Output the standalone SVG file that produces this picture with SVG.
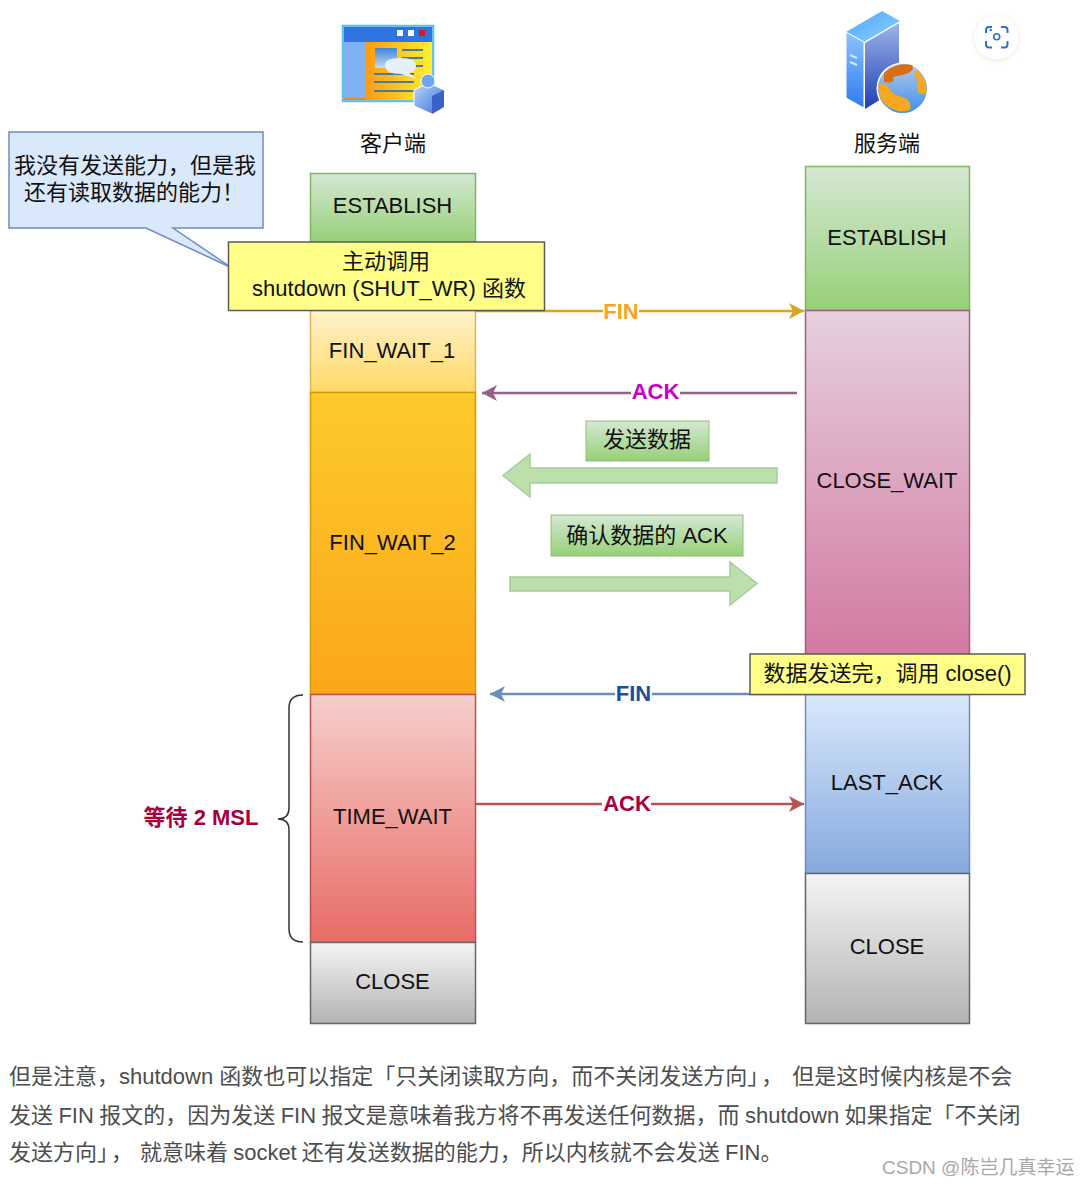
<svg xmlns="http://www.w3.org/2000/svg" width="1088" height="1187" viewBox="0 0 1088 1187">
<defs>
<linearGradient id="gGreen" x1="0" y1="0" x2="0" y2="1"><stop offset="0" stop-color="#d5e8d4"/><stop offset="1" stop-color="#97d077"/></linearGradient>
<linearGradient id="gYellow" x1="0" y1="0" x2="0" y2="1"><stop offset="0" stop-color="#fff2cc"/><stop offset="1" stop-color="#ffd966"/></linearGradient>
<linearGradient id="gOrange" x1="0" y1="0" x2="0" y2="1"><stop offset="0" stop-color="#fdcb2c"/><stop offset="1" stop-color="#fba61a"/></linearGradient>
<linearGradient id="gRed" x1="0" y1="0" x2="0" y2="1"><stop offset="0" stop-color="#f6cfcc"/><stop offset="1" stop-color="#e86b66"/></linearGradient>
<linearGradient id="gGrey" x1="0" y1="0" x2="0" y2="1"><stop offset="0" stop-color="#f5f5f5"/><stop offset="1" stop-color="#b3b3b3"/></linearGradient>
<linearGradient id="gPink" x1="0" y1="0" x2="0" y2="1"><stop offset="0" stop-color="#e6d0de"/><stop offset="1" stop-color="#d0709b"/></linearGradient>
<linearGradient id="gBlue" x1="0" y1="0" x2="0" y2="1"><stop offset="0" stop-color="#dae8fc"/><stop offset="1" stop-color="#85a9de"/></linearGradient>
<linearGradient id="gTag" x1="0" y1="0" x2="0" y2="1"><stop offset="0" stop-color="#d5e8d4"/><stop offset="1" stop-color="#97d077"/></linearGradient>
<linearGradient id="gWin" x1="0" y1="0" x2="1" y2="0"><stop offset="0" stop-color="#ff9a10"/><stop offset="1" stop-color="#fff030"/></linearGradient>
<linearGradient id="gPic" x1="0" y1="0" x2="0" y2="1"><stop offset="0" stop-color="#3f86d8"/><stop offset="1" stop-color="#c8dcf0"/></linearGradient>
<linearGradient id="gSrvL" x1="0" y1="0" x2="0" y2="1"><stop offset="0" stop-color="#8cc4ff"/><stop offset="1" stop-color="#2f7bf0"/></linearGradient>
<linearGradient id="gSrvR" x1="0" y1="0" x2="0" y2="1"><stop offset="0" stop-color="#9db4ea"/><stop offset="1" stop-color="#1f3fb4"/></linearGradient>
<linearGradient id="gSrvT" x1="0" y1="0" x2="1" y2="1"><stop offset="0" stop-color="#4da6fb"/><stop offset="1" stop-color="#8fd0ff"/></linearGradient>
<linearGradient id="gGlobe" x1="0" y1="0" x2="0" y2="1"><stop offset="0" stop-color="#b4c8e4"/><stop offset="1" stop-color="#3d90ee"/></linearGradient>
<linearGradient id="gPerson" x1="0" y1="0" x2="1" y2="1"><stop offset="0" stop-color="#b5d8ff"/><stop offset="1" stop-color="#3f6fd8"/></linearGradient>
<marker id="aGold" markerWidth="16" markerHeight="16" refX="15" refY="8" orient="auto" markerUnits="userSpaceOnUse"><path d="M0 0 L15 8 L0 16 L4 8Z" fill="#d9a520"/></marker>
<marker id="aPurple" markerWidth="16" markerHeight="16" refX="15" refY="8" orient="auto" markerUnits="userSpaceOnUse"><path d="M0 0 L15 8 L0 16 L4 8Z" fill="#996185"/></marker>
<marker id="aBlue" markerWidth="16" markerHeight="16" refX="15" refY="8" orient="auto" markerUnits="userSpaceOnUse"><path d="M0 0 L15 8 L0 16 L4 8Z" fill="#6c8ebf"/></marker>
<marker id="aRed" markerWidth="16" markerHeight="16" refX="15" refY="8" orient="auto" markerUnits="userSpaceOnUse"><path d="M0 0 L15 8 L0 16 L4 8Z" fill="#b85450"/></marker>
<filter id="soft" x="-40%" y="-40%" width="180%" height="180%"><feGaussianBlur stdDeviation="3"/></filter>
</defs>
<style>
text{font-family:"Liberation Sans","Noto Sans CJK SC",sans-serif;fill:#111}
.st{font-size:22px;text-anchor:middle}
.cj{font-size:22px;text-anchor:middle}
.lb{font-size:22px;font-weight:700;text-anchor:middle}
.body{font-size:22px;fill:#4d4d4d}
.s{stroke-width:1.5}
.conn{fill:none;stroke-width:2.5}
.tag{fill:url(#gTag);stroke:#8fbf78;stroke-width:1}
.note{fill:#ffff88;stroke:#5c5c50;stroke-width:1.5}
.big{fill:#bcdfac;stroke:#a3d097;stroke-width:1.5}
</style>
<rect width="1088" height="1187" fill="#fff"/>

<g id="icon-client">
<rect x="342.500" y="25.500" width="91" height="76" fill="#6cc4ee" stroke="#58c0f0" stroke-width="1.500"/>
<rect x="344" y="27" width="88" height="15" fill="#2f74e0"/>
<rect x="344" y="42" width="22" height="56" fill="#7fb2f4"/>
<rect x="366" y="42" width="66" height="58" fill="url(#gWin)"/>
<rect x="344" y="98" width="22" height="2" fill="#f08a20"/>
<rect x="397" y="30" width="6" height="6" fill="#fff"/><rect x="408" y="30" width="6" height="6" fill="#fff"/><rect x="419" y="30" width="6" height="6" fill="#e01818"/>
<rect x="375" y="48" width="22" height="20" fill="url(#gPic)"/>
<path d="M402 50h21M402 58h21M402 66h21M374 74h40M374 82h40M374 91h40" stroke="#4a7a9c" stroke-width="2" fill="none"/>
<path d="M385 65 Q385 58 401 58 Q416 58 416 66 Q416 72 409 73 L417 79 L401 74 Q385 74 385 65Z" fill="#e6f0fa"/>
<path d="M414 90 L429 83 L444 90 L444 107 L432 114 L414 106Z" fill="url(#gPerson)" stroke="#fff" stroke-width="1"/>
<path d="M432 114 L444 107 L444 90 L432 96Z" fill="#3b60c8"/>
<circle cx="428" cy="81" r="7" fill="#6fa8f0" stroke="#fff" stroke-width="1"/>
</g>

<g id="icon-server">
<path d="M846 32 L882 11 L900 21 L864 42Z" fill="url(#gSrvT)"/>
<path d="M846 32 L864 42 L864 108 L846 98Z" fill="url(#gSrvL)" stroke="#fff" stroke-width="1"/>
<path d="M865 43 L899 23 L899 88 L865 109Z" fill="url(#gSrvR)"/>
<path d="M850 55l7 3M850 62l7 3" stroke="#d5e5fa" stroke-width="2"/>
<circle cx="902.500" cy="88.500" r="26" fill="#fff"/>
<circle cx="902.500" cy="88.500" r="24.500" fill="url(#gGlobe)"/>
<path d="M884 73 Q896 62 912 65 Q916 70 906 74 Q898 76 893 77 Q896 84 884 82Z" fill="#d96e10"/>
<path d="M878 86 Q884 80 889 88 Q892 95 903 97 Q913 101 910 110 Q902 113 895 110 Q884 106 880 97Z" fill="#f5a820"/>
<path d="M917 70 Q926 78 927 92 Q920 97 917 90 Q920 80 914 74Z" fill="#f5a820"/>
</g>

<g id="icon-scan">
<circle cx="996.500" cy="38.500" r="21" fill="#000" fill-opacity=".12" filter="url(#soft)"/>
<circle cx="996.500" cy="37.500" r="22" fill="#fff"/>
<path d="M986 33 v-3 q0 -3 3 -3 h3 M1001 27 h3.500 q3 0 3 3 v3 M1007.500 41 v3.500 q0 3 -3 3 h-3.500 M992 47.500 h-3 q-3 0 -3 -3 v-3.500" fill="none" stroke="#2f6fd0" stroke-width="2"/>
<circle cx="996.700" cy="36.700" r="3" fill="none" stroke="#2f6fd0" stroke-width="1.600"/>
<circle cx="990.700" cy="30" r="1.200" fill="#2f6fd0"/>
</g>

<g id="label-client"><text class="cj" x="393" y="151">客户端</text></g>
<g id="label-server"><text class="cj" x="887" y="151">服务端</text></g>

<g id="client-establish"><rect class="s" x="310.500" y="173.500" width="165" height="69" fill="url(#gGreen)" stroke="#82b366"/><text class="st" x="392.500" y="213">ESTABLISH</text></g>
<g id="client-fin-wait-1"><rect class="s" x="310.500" y="310.500" width="165" height="82" fill="url(#gYellow)" stroke="#d6b656"/><text class="st" x="392" y="358">FIN_WAIT_1</text></g>
<g id="client-fin-wait-2"><rect class="s" x="310.500" y="392.500" width="165" height="302" fill="url(#gOrange)" stroke="#d79b00"/><text class="st" x="392.500" y="550">FIN_WAIT_2</text></g>
<g id="client-time-wait"><rect class="s" x="310.500" y="694.500" width="165" height="248" fill="url(#gRed)" stroke="#b85450"/><text class="st" x="392.500" y="824">TIME_WAIT</text></g>
<g id="client-close"><rect class="s" x="310.500" y="942.500" width="165" height="81" fill="url(#gGrey)" stroke="#666"/><text class="st" x="392.500" y="989">CLOSE</text></g>

<g id="server-establish"><rect class="s" x="805.500" y="166.500" width="164" height="144" fill="url(#gGreen)" stroke="#82b366"/><text class="st" x="887" y="245">ESTABLISH</text></g>
<g id="server-close-wait"><rect class="s" x="805.500" y="310.500" width="164" height="383" fill="url(#gPink)" stroke="#996185"/><text class="st" x="887" y="488">CLOSE_WAIT</text></g>
<g id="server-last-ack"><rect class="s" x="805.500" y="694.500" width="164" height="179" fill="url(#gBlue)" stroke="#6c8ebf"/><text class="st" x="887" y="790">LAST_ACK</text></g>
<g id="server-close"><rect class="s" x="805.500" y="873.500" width="164" height="150" fill="url(#gGrey)" stroke="#666"/><text class="st" x="887" y="954">CLOSE</text></g>

<g id="connectors">
<path class="conn" d="M476 311H804" stroke="#d9a520" marker-end="url(#aGold)"/>
<rect x="603" y="300" width="36" height="24" fill="#fff"/>
<text class="lb" x="621" y="319" style="fill:#f5a623">FIN</text>
<path class="conn" d="M797 393H482" stroke="#996185" marker-end="url(#aPurple)"/>
<rect x="631" y="381" width="49" height="24" fill="#fff"/>
<text class="lb" x="655.500" y="399" style="fill:#c800c8">ACK</text>
<path class="conn" d="M805 694H490" stroke="#6c8ebf" marker-end="url(#aBlue)"/>
<rect x="615" y="682" width="37" height="24" fill="#fff"/>
<text class="lb" x="633.500" y="701" style="fill:#1c4f9c">FIN</text>
<path class="conn" d="M476 804H804" stroke="#b85450" marker-end="url(#aRed)"/>
<rect x="602" y="792" width="49" height="24" fill="#fff"/>
<text class="lb" x="627" y="811" style="fill:#a50040">ACK</text>
<path class="big" d="M777 468V483H530V497L503 475.500L530 454V468Z"/>
<path class="big" d="M510 577V591H730V605L757 583.500L730 562V577Z"/>
<path d="M278 819 Q289 819 289 808 V708 Q289 695 303 695 M278 819 Q289 819 289 830 V929 Q289 942 303 942" fill="none" stroke="#333" stroke-width="1.500"/>
</g>

<g id="callout"><path d="M9 132H263V228H173L232 268L146 228H9Z" fill="#dae8fc" stroke="#6c8ebf" stroke-width="1.500"/><text class="cj" x="135" y="173">我没有发送能力，但是我</text><text class="cj" x="134" y="200">还有读取数据的能力！</text></g>
<g id="note-shutdown"><rect class="note" x="228.500" y="242" width="316" height="68.500"/><text class="cj" x="386" y="269">主动调用</text><text class="cj" x="389" y="296">shutdown (SHUT_WR) 函数</text></g>
<g id="tag-send"><rect class="tag" x="586" y="421" width="123" height="40"/><text class="cj" x="647" y="447">发送数据</text></g>
<g id="tag-ack"><rect class="tag" x="551" y="515" width="192" height="41"/><text class="cj" x="647" y="543">确认数据的 ACK</text></g>
<g id="note-close"><rect class="note" x="750" y="654" width="275" height="40.500"/><text class="cj" x="887.500" y="681">数据发送完，调用 close()</text></g>
<g id="label-msl"><text class="lb" x="201" y="825" style="fill:#a50040">等待 2 MSL</text></g>

<g id="caption">
<text class="body" x="9" y="1084">但是注意，shutdown 函数也可以指定「只关闭读取方向，而不关闭发送方向」<tspan dx="3">，</tspan><tspan dx="9">但是这时候内核是不会</tspan></text>
<text class="body" x="9" y="1123" style="word-spacing:-0.7px">发送 FIN 报文的，因为发送 FIN 报文是意味着我方将不再发送任何数据，而 shutdown 如果指定「不关闭</text>
<text class="body" x="9" y="1160" style="word-spacing:-1px">发送方向」<tspan dx="3">，</tspan><tspan dx="7">就意味着 socket 还有发送数据的能力，所以内核就不会发送 FIN。</tspan></text>
<text x="882" y="1174" style="font-size:19px;fill:#a8a8a8">CSDN @陈岂几真幸运</text>
</g>
</svg>
